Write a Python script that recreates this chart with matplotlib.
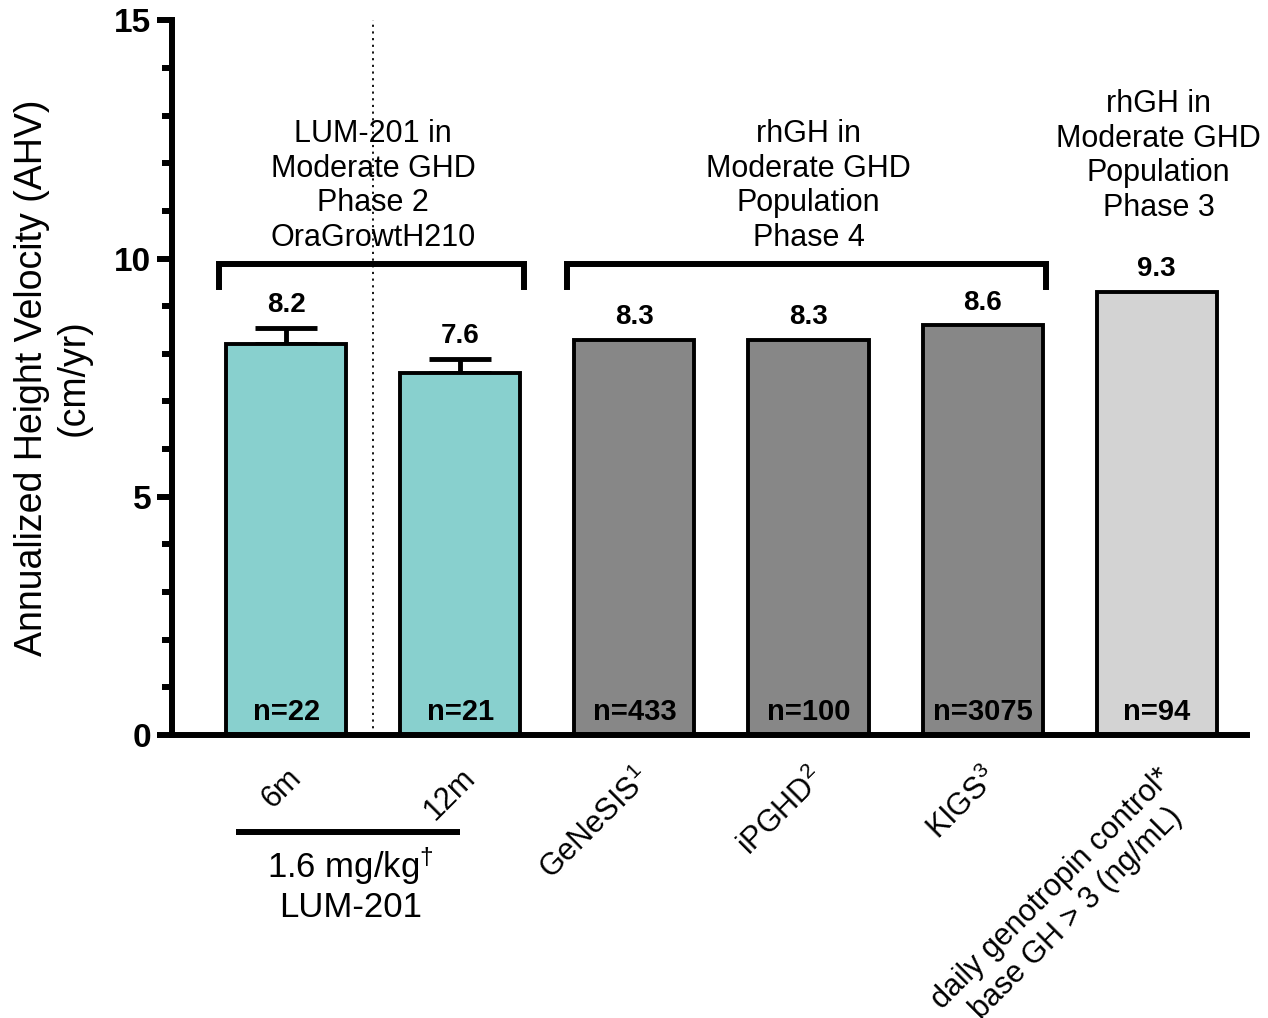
import numpy as np
import matplotlib.pyplot as plt

plt.rcParams['font.family'] = ['Liberation Sans', 'DejaVu Sans']
plt.rcParams['mathtext.fontset'] = 'custom'
plt.rcParams['mathtext.rm'] = 'Liberation Sans'
plt.rcParams['mathtext.it'] = 'Liberation Sans:italic'
plt.rcParams['mathtext.bf'] = 'Liberation Sans:bold'

# data
labels = ['6m', '12m', 'GeNeSIS$^1$', 'iPGHD$^2$', 'KIGS$^3$',
          'daily genotropin control*\nbase GH > 3 (ng/mL)']
values = [8.2, 7.6, 8.3, 8.3, 8.6, 9.3]
errors = [0.35, 0.3, 0, 0, 0, 0]
n_text = ['n=22', 'n=21', 'n=433', 'n=100', 'n=3075', 'n=94']
colors = ['#88D0CE', '#88D0CE', '#878787', '#878787', '#878787', '#D3D3D3']
groups = [(0, 1, 'LUM-201 in\nModerate GHD\nPhase 2\nOraGrowtH210', True),
          (2, 4, 'rhGH in\nModerate GHD\nPopulation\nPhase 4', True),
          (5, 5, 'rhGH in\nModerate GHD\nPopulation\nPhase 3', False)]

fig = plt.figure(figsize=(12.68, 10.18), dpi=100)
ax = fig.add_axes([0.1357, 0.278, 0.848, 0.702])

x = np.arange(len(values))
w = 0.69
ax.bar(x, values, width=w, color=colors, edgecolor='black', linewidth=2.8, zorder=2)

# error bars (only up)
for i in range(len(values)):
    if errors[i] > 0:
        ax.errorbar(x[i], values[i], yerr=[[0], [errors[i]]], color='black',
                    elinewidth=3.5, capsize=22, capthick=3.5, zorder=1)

for i in range(len(values)):
    ax.text(x[i], values[i] + errors[i] + 0.2, f'{values[i]:.1f}', ha='center', va='bottom',
            fontsize=20, fontweight='bold')
    ax.text(x[i], 0.18, n_text[i], ha='center', va='bottom', fontsize=21, fontweight='bold')

# brackets and group titles
for a, b, txt, bracket in groups:
    if bracket:
        x0, x1 = x[a] - w / 2 - 0.04, x[b] + w / 2 + 0.02
        ax.plot([x0, x0, x1, x1], [9.4, 9.88, 9.88, 9.4], color='black', lw=4.3,
                solid_joinstyle='miter', clip_on=False)
        ax.text(x[a] + (x[b] - x[a]) / 2 - 0.0, 10.12, txt, ha='center', va='bottom',
                fontsize=22, linespacing=1.2)
    else:
        ax.text(x[a] + 0.01, 10.75, txt, ha='center', va='bottom', fontsize=22, linespacing=1.2)

ax.axvline(0.5, color='black', lw=1.3, ls=(0, (1.2, 2.5)), zorder=0)

ax.set_xlim(-0.655, 5.52)
ax.set_ylim(0, 15)
ax.set_yticks([0, 5, 10, 15])
ax.set_yticks(np.arange(0, 16, 1), minor=True)
ax.tick_params(axis='y', which='major', length=11, width=4.3, labelsize=24, pad=4)
ax.tick_params(axis='y', which='minor', length=7, width=4.3)
for t in ax.get_yticklabels():
    t.set_fontweight('bold')

ax.set_xticks(x)
ax.set_xticklabels(labels, rotation=45, ha='right', va='top', rotation_mode='anchor',
                   fontsize=22, multialignment='center')
ax.tick_params(axis='x', length=0, pad=20)

ax.set_ylabel('Annualized Height Velocity (AHV)\n(cm/yr)', fontsize=27, labelpad=16)

for s in ['top', 'right']:
    ax.spines[s].set_visible(False)
for s in ['left', 'bottom']:
    ax.spines[s].set_linewidth(4.3)

# LUM-201 dose bracket under the axis
ax.plot([x[0] - 0.29, x[1] + 0.0], [-2.03, -2.03], color='black', lw=4.3, clip_on=False,
        solid_capstyle='butt')
ax.text(0.37, -2.3, '1.6 mg/kg$^{\u2020}$\nLUM-201', ha='center', va='top', fontsize=25,
        linespacing=1.15)

fig.savefig('out.png', dpi=100)
